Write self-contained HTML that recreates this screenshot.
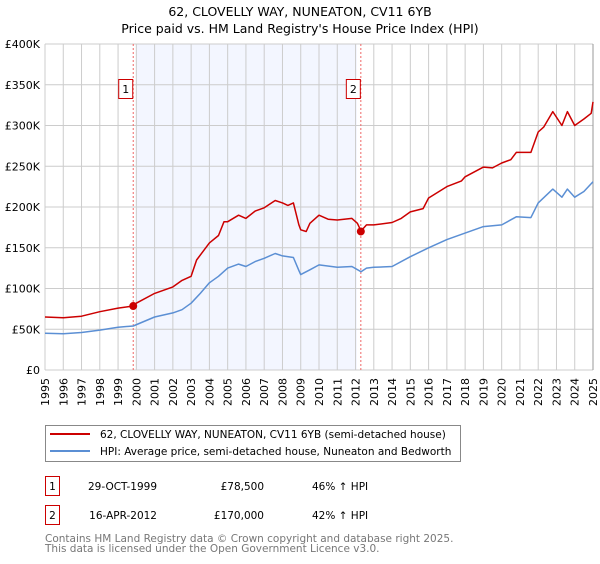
<!DOCTYPE html>
<html><head><meta charset="utf-8"><style>
body{margin:0;background:#fff;font-family:"DejaVu Sans","Liberation Sans",sans-serif;}
svg text{font-family:"DejaVu Sans","Liberation Sans",sans-serif;}
</style></head><body>
<svg id="chart" width="600" height="560" xmlns="http://www.w3.org/2000/svg">
<text x="300" y="16" text-anchor="middle" font-size="12.5">62, CLOVELLY WAY, NUNEATON, CV11 6YB</text>
<text x="300" y="33" text-anchor="middle" font-size="12.5">Price paid vs. HM Land Registry's House Price Index (HPI)</text>
<g id="plot"></g>
<g>
<rect x="45.5" y="425.5" width="415" height="36" fill="#fff" stroke="#888"/>
<line x1="50" y1="434" x2="90" y2="434" stroke="#cc0000" stroke-width="2"/>
<text x="100" y="438" font-size="10.5">62, CLOVELLY WAY, NUNEATON, CV11 6YB (semi-detached house)</text>
<line x1="50" y1="451" x2="90" y2="451" stroke="#5b8fd4" stroke-width="2"/>
<text x="100" y="455" font-size="10.5">HPI: Average price, semi-detached house, Nuneaton and Bedworth</text>
</g>
<g font-size="10.5">
<rect x="45.5" y="476.5" width="14" height="19" fill="#fff" stroke="#cc0000"/>
<text x="52.5" y="490" text-anchor="middle">1</text>
<text x="157" y="490" text-anchor="end">29-OCT-1999</text>
<text x="264" y="490" text-anchor="end">£78,500</text>
<text x="312" y="490">46% ↑ HPI</text>
<rect x="45.5" y="505.5" width="14" height="19" fill="#fff" stroke="#cc0000"/>
<text x="52.5" y="519" text-anchor="middle">2</text>
<text x="157" y="519" text-anchor="end">16-APR-2012</text>
<text x="264" y="519" text-anchor="end">£170,000</text>
<text x="312" y="519">42% ↑ HPI</text>
</g>
<text x="45" y="542" font-size="10.5" fill="#777">Contains HM Land Registry data © Crown copyright and database right 2025.</text>
<text x="45" y="552" font-size="10.5" fill="#777">This data is licensed under the Open Government Licence v3.0.</text>
</svg>
<script>
const yTicks=[0,50000,100000,150000,200000,250000,300000,350000,400000];
const yTickLabels=["£0","£50K","£100K","£150K","£200K","£250K","£300K","£350K","£400K"];
const years=[1995,1996,1997,1998,1999,2000,2001,2002,2003,2004,2005,2006,2007,2008,2009,2010,2011,2012,2013,2014,2015,2016,2017,2018,2019,2020,2021,2022,2023,2024,2025];
const redT=[1995,1996,1997,1998,1999,1999.83,2000,2001,2002,2002.5,2003,2003.3,2004,2004.5,2004.8,2005,2005.6,2006,2006.5,2007,2007.6,2008,2008.3,2008.6,2008.9,2009,2009.3,2009.5,2010,2010.5,2011,2011.8,2012.1,2012.3,2012.6,2013,2014,2014.5,2015,2015.7,2016,2017,2017.8,2018,2019,2019.5,2020,2020.5,2020.8,2021.6,2022,2022.3,2022.8,2023.3,2023.6,2024,2024.5,2024.9,2025];
const redV=[65000,64000,66000,71500,76000,78500,82000,94000,102000,110000,115000,135000,156000,165000,182000,182000,190000,186000,195000,199000,208000,205000,202000,205000,178000,172000,170000,180000,190000,185000,184000,186000,180000,170500,178000,178000,181000,186000,194000,198000,211000,225000,232000,237000,249000,248000,254000,258000,267000,267000,292000,298000,317000,300000,317000,300000,308000,315000,329000];
const blueT=[1995,1996,1997,1998,1999,1999.83,2001,2002,2002.5,2003,2003.5,2004,2004.5,2005,2005.6,2006,2006.5,2007,2007.6,2008,2008.6,2008.9,2009,2009.5,2010,2011,2011.8,2012.3,2012.6,2013,2014,2015,2016,2017,2018,2019,2020,2020.8,2021.6,2022,2022.8,2023.3,2023.6,2024,2024.5,2025];
const blueV=[45000,44500,46000,49000,52500,54000,65000,70000,74000,82000,94000,107000,115000,125000,130000,127000,133000,137000,143000,140000,138000,122000,117000,123000,129000,126000,127000,120600,125000,126000,127000,139000,150000,160000,168000,176000,178000,188000,187000,205000,222000,212000,222000,212000,219000,231000];
const sales=[{t:1999.83,v:78500,n:"1"},{t:2012.29,v:170000,n:"2"}];
const X0=45,X1=593,Y0=370,Y1=44;
const xs=t=>X0+(t-1995)/30*(X1-X0);
const ys=v=>Y0-v/400000*(Y0-Y1);
const NS="http://www.w3.org/2000/svg";
const g=document.getElementById('plot');
function mk(tag,attrs,parent){const e=document.createElementNS(NS,tag);for(const k in attrs)e.setAttribute(k,attrs[k]);(parent||g).appendChild(e);return e;}
const bg=mk('rect',{x:X0,y:Y1,width:X1-X0,height:Y0-Y1,fill:'#fff'});


const sh=mk('rect',{x:xs(2000),y:Y1,width:xs(2012.07)-xs(2000),height:Y0-Y1,fill:'#f0f4ff',opacity:'0.8'});


years.forEach(yr=>{
 const l=mk('line',{x1:xs(yr),x2:xs(yr),y1:Y1,y2:Y0,stroke:'#ccc','stroke-width':1});
 
 
 const t=mk('text',{x:0,y:0,'font-size':11,'text-anchor':'end',transform:`translate(${xs(yr)+4},${Y0+8}) rotate(-90)`});
 t.textContent=yr;
 
 
});
yTicks.forEach((v,i)=>{
 const l=mk('line',{x1:X0,x2:X1,y1:ys(v),y2:ys(v),stroke:'#ccc','stroke-width':1});
 
 
 const t=mk('text',{x:40,y:ys(v)+4,'font-size':11,'text-anchor':'end'});
 t.textContent=yTickLabels[i];
 
 
});
const rb=mk('line',{x1:X1,x2:X1,y1:Y1,y2:Y0,stroke:'#999','stroke-width':1});


sales.forEach(s=>{
 const l=mk('line',{x1:xs(s.t),x2:xs(s.t),y1:Y1,y2:Y0,stroke:'#e66','stroke-width':1,'stroke-dasharray':'2,2'});
 
 
 const b=mk('rect',{x:xs(s.t)-14.5,y:79.5,width:14,height:19,fill:'#fff',stroke:'#cc0000'});
 
 
 const t=mk('text',{x:xs(s.t)-7.5,y:93,'font-size':11,'text-anchor':'middle'});
 t.textContent=s.n;
 
 
});
function line(T,V,c,name){
 const d=T.map((t,i)=>(i?'L':'M')+xs(t).toFixed(1)+','+ys(V[i]).toFixed(1)).join('');
 const p=mk('path',{d:d,fill:'none',stroke:c,'stroke-width':1.5,'stroke-linejoin':'round'});
 
 
}
line(blueT,blueV,'#5b8fd4','hpi-line');
line(redT,redV,'#cc0000','property-price-line');
sales.forEach(s=>{
 const c=mk('circle',{cx:xs(s.t),cy:ys(s.v),r:4,fill:'#cc0000'});
 
 
});
</script>
</body></html>
